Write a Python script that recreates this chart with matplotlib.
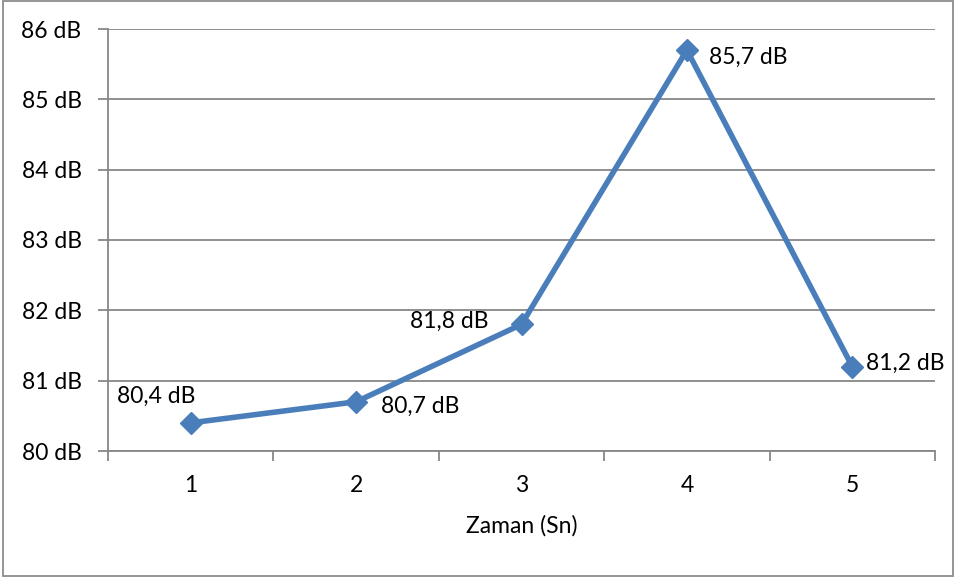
import matplotlib
matplotlib.use("Agg")
import matplotlib.pyplot as plt
from matplotlib.patches import Rectangle

plt.rcParams['font.family'] = ['Lato', 'DejaVu Sans']

times = [1, 2, 3, 4, 5]
levels = [80.4, 80.7, 81.8, 85.7, 81.2]
y_ticks = [80, 81, 82, 83, 84, 85, 86]
x_label = "Zaman (Sn)"

# label placement (offset in pixels, horizontal alignment)
label_pos = [
    ((5, 27), 'right'),
    ((25, -5), 'left'),
    ((-33, 3), 'right'),
    ((22, -7), 'left'),
    ((14, 3), 'left'),
]

line_color = '#4A7EBB'
grid_color = '#878787'
fs = 16.5

fig = plt.figure(figsize=(9.56, 5.79), dpi=100)
ax = fig.add_axes([108/956, 1 - 451/579, (935-108)/956, (451-29)/579])

x = list(range(len(times)))
ax.plot(x, levels, color=line_color, lw=4, marker='D', markersize=11,
        markerfacecolor=line_color, markeredgecolor=line_color, zorder=3,
        clip_on=False)

for xi, v, (off, ha) in zip(x, levels, label_pos):
    ax.annotate(f"{v:.1f}".replace('.', ',') + " dB", (xi, v), xytext=off,
                textcoords='offset pixels', ha=ha, va='center', fontsize=fs)

ax.set_xlim(-0.5, len(times) - 0.5)
ax.set_ylim(y_ticks[0], y_ticks[-1])
ax.set_yticks(y_ticks)
ax.set_yticklabels([f"{t} dB" for t in y_ticks], fontsize=fs)
ax.yaxis.grid(True, color=grid_color, lw=1.3)
ax.set_axisbelow(True)

ax.set_xticks(x)
ax.set_xticklabels([str(t) for t in times], fontsize=fs)
ax.tick_params(axis='x', length=0, pad=17)
ax.set_xticks([i - 0.5 for i in range(len(times) + 1)], minor=True)
ax.tick_params(axis='x', which='minor', length=7, width=1.3, color=grid_color)
ax.tick_params(axis='y', length=7, width=1.3, color=grid_color, pad=12)
ax.set_xlabel(x_label, fontsize=fs, labelpad=14)

for s in ['top', 'right']:
    ax.spines[s].set_visible(False)
for s in ['left', 'bottom']:
    ax.spines[s].set_color(grid_color)
    ax.spines[s].set_linewidth(1.3)

# outer chart border
fig.patches.append(Rectangle((3/956, 3/579), 950/956, 575/579, transform=fig.transFigure,
                             fill=False, edgecolor='#8C8C8C', lw=1.3))

fig.savefig("out.png", dpi=100)
